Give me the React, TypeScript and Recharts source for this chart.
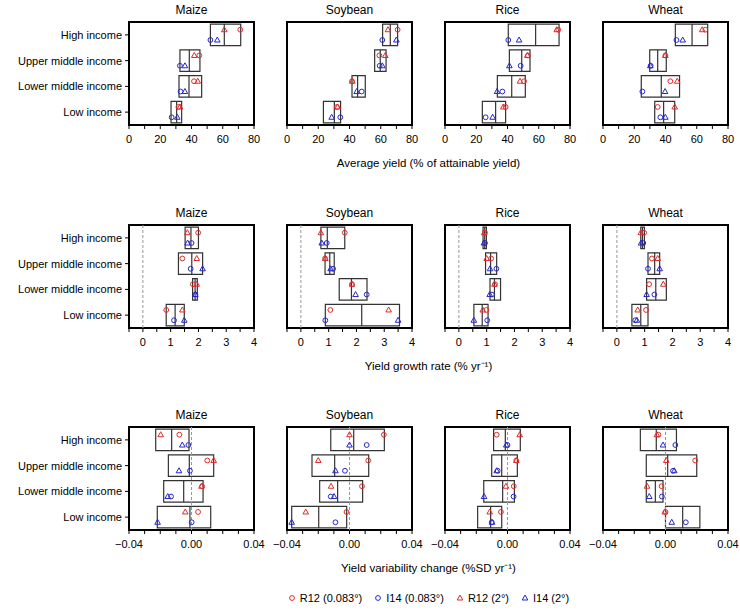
import React from 'react';
import {
  ComposedChart, XAxis, YAxis, Scatter, ReferenceArea, ReferenceLine,
} from 'recharts';

const crops = ['Maize', 'Soybean', 'Rice', 'Wheat'];
const groups = ['High income', 'Upper middle income', 'Lower middle income', 'Low income'];

// average yield (% of attainable) – per crop, per income group
const avgR12f = [[71.2, 45, 41.6, 31.6], [70.8, 59.1, 41.6, 32.0], [72.5, 53.1, 50.6, 38.8], [65.5, 39.9, 43.1, 35]];
const avgI14f = [[52.1, 32.6, 33.0, 27.3], [61, 59.3, 47.8, 34.1], [40.5, 48.4, 36.7, 26], [47, 30.5, 25.2, 36.7]];
const avgR12c = [[61, 41.8, 44, 32.6], [64.6, 62.9, 41.8, 32.4], [71.5, 52.7, 48, 37.3], [63.5, 39.9, 47.5, 45.9]];
const avgI14c = [[56.5, 35.8, 35.8, 30.9], [70, 61, 44.6, 28.6], [47.4, 41.2, 33.3, 30.5], [51, 30.3, 39.7, 39.9]];
const avgLo = [[52.1, 32.6, 32.0, 26.9], [61.2, 56.1, 41.6, 23.3], [40.5, 41.2, 33.5, 23.9], [46.3, 29.9, 24.5, 33.1]];
const avgMid = [[61, 38.6, 38.4, 30.5], [66.1, 59.7, 45.2, 30.3], [58, 49.1, 42.7, 32.4], [57, 35, 37.3, 38.8]];
const avgHi = [[71.5, 45.4, 46.5, 33.7], [70.8, 63.4, 50.1, 34.3], [73, 54.4, 51.4, 38.8], [67, 40.5, 49, 45.9]];

// yield growth rate (% per yr)
const grR12f = [[1.99, 1.42, 1.80, 0.84], [1.58, 0.87, 1.84, 1.06], [0.94, 1.16, 1.30, 0.99], [0.98, 1.26, 1.16, 1.05]];
const grI14f = [[1.75, 1.72, 1.89, 1.12], [0.93, 1.16, 2.37, 0.88], [0.94, 1.35, 1.19, 1.02], [0.95, 1.12, 1.35, 0.66]];
const grR12c = [[1.6, 1.94, 1.94, 1.42], [0.72, 0.88, 1.84, 3.16], [0.91, 1.0, 1.28, 0.86], [0.86, 1.47, 1.67, 0.75]];
const grI14c = [[1.61, 2.15, 1.89, 1.49], [0.75, 1.07, 1.97, 3.5], [0.90, 1.12, 1.11, 0.54], [0.87, 1.54, 1.07, 0.72]];
const grLo = [[1.52, 1.28, 1.79, 0.84], [0.72, 0.87, 1.38, 0.88], [0.87, 0.96, 1.12, 0.54], [0.86, 1.12, 1.07, 0.54]];
const grMid = [[1.73, 1.76, 1.88, 1.16], [0.95, 1.04, 1.82, 2.19], [0.93, 1.14, 1.28, 0.84], [0.92, 1.36, 1.40, 0.86]];
const grHi = [[2.0, 2.15, 1.96, 1.49], [1.58, 1.2, 2.38, 3.55], [0.99, 1.36, 1.5, 1.05], [0.99, 1.54, 1.78, 1.12]];

// yield variability change (%SD per yr)
const vrR12f = [[-0.0078, 0.0101, 0.0068, 0.0042], [0.022, 0.012, 0.008, -0.0019], [-0.0069, 0.0056, 0.004, -0.0042], [-0.0045, 0.019, -0.0025, 0.0]];
const vrI14f = [[-0.002, -0.001, -0.0131, 0.0001], [0.011, -0.0029, -0.012, -0.009], [0.0, -0.0063, 0.0039, -0.0101], [0.0063, 0.0048, -0.0023, 0.013]];
const vrR12c = [[-0.0197, 0.0142, 0.0064, -0.004], [0.0, -0.02, -0.0118, -0.028], [0.0078, 0.0057, -0.001, -0.0114], [-0.0055, 0.0005, -0.0118, -0.0005]];
const vrI14c = [[-0.0059, -0.008, -0.0152, -0.0217], [0.0, -0.009, -0.0099, -0.037], [-0.0008, -0.0069, -0.015, -0.0099], [-0.0016, 0.0056, -0.0104, 0.004]];
const vrLo = [[-0.0229, -0.0148, -0.0178, -0.0219], [-0.012, -0.024, -0.0191, -0.037], [-0.0089, -0.0101, -0.0152, -0.0191], [-0.0161, -0.0123, -0.0123, 0.0]];
const vrMid = [[-0.0127, -0.0014, -0.005, -0.001], [0.0027, -0.0095, -0.0076, -0.0197], [-0.0014, -0.0037, -0.0031, -0.0108], [-0.0059, 0.0014, -0.0065, 0.011]];
const vrHi = [[-0.0016, 0.0142, 0.0074, 0.0123], [0.0223, 0.0123, 0.0084, -0.0018], [0.0082, 0.0063, 0.0044, -0.0037], [0.007, 0.02, -0.0016, 0.022]];

const avgTicks = [0, 10, 20, 30, 40, 50, 60, 70, 80];
const avgLabels = [0, 20, 40, 60, 80];
const grTicks = [-0.5, 0, 0.5, 1, 1.5, 2, 2.5, 3, 3.5, 4];
const grLabels = [0, 1, 2, 3, 4];
const vrTicks = [-0.04, -0.03, -0.02, -0.01, 0, 0.01, 0.02, 0.03, 0.04];
const vrLabels = [-0.04, 0, 0.04];

const RED = '#e02a2a';
const BLUE = '#2626cc';
const FONT = '"Liberation Sans", Arial, Helvetica, sans-serif';

const PW = 125;
const PH = 103;
const X0 = [129, 287, 445, 603];
const ROW_TOP = [22, 225, 427];
const PAD = 18;

const fmtVar = (v: number) => (v === 0 ? '0.00' : v < 0 ? '\u2212' + Math.abs(v).toFixed(2) : v.toFixed(2));

const rows = [
  { domain: [0, 80], ticks: avgTicks, labels: avgLabels, fmt: (v: number) => String(v), zero: false,
    r12f: avgR12f, i14f: avgI14f, r12c: avgR12c, i14c: avgI14c, lo: avgLo, mid: avgMid, hi: avgHi,
    title: 'Average yield (% of attainable yield)' },
  { domain: [-0.5, 4], ticks: grTicks, labels: grLabels, fmt: (v: number) => String(v), zero: true,
    r12f: grR12f, i14f: grI14f, r12c: grR12c, i14c: grI14c, lo: grLo, mid: grMid, hi: grHi,
    title: 'Yield growth rate (% yr\u207B\u00B9)' },
  { domain: [-0.04, 0.04], ticks: vrTicks, labels: vrLabels, fmt: fmtVar, zero: true,
    r12f: vrR12f, i14f: vrI14f, r12c: vrR12c, i14c: vrI14c, lo: vrLo, mid: vrMid, hi: vrHi,
    title: 'Yield variability change (%SD yr\u207B\u00B9)' },
];

const circleShape = (color: string) => (p: any) => (
  <circle cx={p.cx} cy={p.cy} r={2.4} fill="none" stroke={color} strokeWidth={1} />
);
const triShape = (color: string) => (p: any) => (
  <polygon
    points={`${p.cx},${p.cy - 3} ${p.cx - 2.8},${p.cy + 2} ${p.cx + 2.8},${p.cy + 2}`}
    fill="none" stroke={color} strokeWidth={1}
  />
);

const GroupTick = (p: any) => (
  <text x={p.x - 1} y={p.y} dy={4} textAnchor="end" fontSize={11} fontFamily={FONT} fill="#000">
    {groups[p.payload.value - 1]}
  </text>
);

function Panel({ row, col }: { row: number; col: number }) {
  const r = rows[row];
  const leftW = col === 0 ? 128 : 8;
  const pts = (vals: number[], off: number) => vals.map((v, i) => ({ x: v, y: i + 1 + off }));
  const tickFmt = (v: number) => (r.labels.includes(v) ? r.fmt(v) : '');
  const tickStyle = { fontSize: 11, fill: '#000', fontFamily: FONT };
  const ml = col === 0 ? 0 : PAD;
  return (
    <div style={{ position: 'absolute', left: X0[col] - leftW - ml, top: ROW_TOP[row] - 5 }}>
      <ComposedChart width={ml + leftW + PW + 8 + PAD} height={5 + PH + 26}
        margin={{ top: 0, right: PAD, bottom: 0, left: ml }}>
        <XAxis xAxisId="b" dataKey="x" type="number" domain={r.domain} ticks={r.ticks} allowDataOverflow
          interval={0} tickFormatter={tickFmt} axisLine={false} tickLine={{ stroke: '#000' }} tickSize={4}
          tickMargin={6} height={26} tick={tickStyle} />
        <XAxis xAxisId="t" orientation="top" type="number" domain={r.domain} ticks={r.ticks} allowDataOverflow
          interval={0} axisLine={false} tickLine={{ stroke: '#000' }} tickSize={4} height={5} tick={false} />
        <YAxis yAxisId="l" dataKey="y" type="number" domain={[0.5, 4.5]} reversed ticks={[1, 2, 3, 4]}
          interval={0} axisLine={false} tickLine={{ stroke: '#000' }} tickSize={4} width={leftW}
          tick={col === 0 ? <GroupTick /> : false} />
        <YAxis yAxisId="r" orientation="right" type="number" domain={[0.5, 4.5]} reversed ticks={[1, 2, 3, 4]}
          interval={0} axisLine={false} tickLine={{ stroke: '#000' }} tickSize={4} width={8} tick={false} />
        {r.zero && (
          <ReferenceLine xAxisId="b" yAxisId="l" x={0} stroke="#999" strokeDasharray="3 2" strokeWidth={1} />
        )}
        {groups.map((g, i) => (
          <ReferenceArea key={'box' + g} xAxisId="b" yAxisId="l" x1={r.lo[col][i]} x2={r.hi[col][i]}
            y1={i + 1 - 0.42} y2={i + 1 + 0.42} fill="none" stroke="#333" strokeWidth={1.2} />
        ))}
        {groups.map((g, i) => (
          <ReferenceLine key={'med' + g} xAxisId="b" yAxisId="l" stroke="#333" strokeWidth={1.2}
            segment={[{ x: r.mid[col][i], y: i + 1 - 0.42 }, { x: r.mid[col][i], y: i + 1 + 0.42 }]} />
        ))}
        <Scatter xAxisId="b" yAxisId="l" data={pts(r.r12f[col], -0.2)} shape={circleShape(RED)} isAnimationActive={false} />
        <Scatter xAxisId="b" yAxisId="l" data={pts(r.r12c[col], -0.2)} shape={triShape(RED)} isAnimationActive={false} />
        <Scatter xAxisId="b" yAxisId="l" data={pts(r.i14f[col], 0.2)} shape={circleShape(BLUE)} isAnimationActive={false} />
        <Scatter xAxisId="b" yAxisId="l" data={pts(r.i14c[col], 0.2)} shape={triShape(BLUE)} isAnimationActive={false} />
        <ReferenceArea xAxisId="b" yAxisId="l" x1={r.domain[0]} x2={r.domain[1]} y1={0.5} y2={4.5}
          fill="none" stroke="#000" strokeWidth={2} ifOverflow="visible" />
      </ComposedChart>
    </div>
  );
}

const legendItems = [
  { label: 'R12 (0.083\u00B0)', color: RED, tri: false },
  { label: 'I14 (0.083\u00B0)', color: BLUE, tri: false },
  { label: 'R12 (2\u00B0)', color: RED, tri: true },
  { label: 'I14 (2\u00B0)', color: BLUE, tri: true },
];

export default function App() {
  return (
    <div style={{ position: 'absolute', left: 0, top: 0, width: 740, height: 611, background: '#fff', fontFamily: FONT, color: '#000' }}>
      {rows.map((r, ri) => (
        <React.Fragment key={ri}>
          {crops.map((c, ci) => (
            <div key={c} style={{ position: 'absolute', left: X0[ci], width: PW, top: ROW_TOP[ri] - 19, height: 14,
              lineHeight: '14px', fontSize: 12, textAlign: 'center' }}>{c}</div>
          ))}
          {crops.map((c, ci) => <Panel key={'p' + c} row={ri} col={ci} />)}
          <div style={{ position: 'absolute', left: X0[0], width: X0[3] + PW - X0[0], top: ROW_TOP[ri] + PH + 31,
            height: 14, lineHeight: '14px', fontSize: 11.5, textAlign: 'center' }}>{r.title}</div>
        </React.Fragment>
      ))}
      <div style={{ position: 'absolute', left: X0[0], width: X0[3] + PW - X0[0], top: 591, height: 14,
        display: 'flex', justifyContent: 'center', alignItems: 'center', fontSize: 11, gap: 12 }}>
        {legendItems.map(it => (
          <span key={it.label} style={{ display: 'flex', alignItems: 'center', gap: 4 }}>
            <svg width={8} height={8}>
              {it.tri
                ? <polygon points="4,1 1.2,6 6.8,6" fill="none" stroke={it.color} strokeWidth={1} />
                : <circle cx={4} cy={4} r={2.4} fill="none" stroke={it.color} strokeWidth={1} />}
            </svg>
            {it.label}
          </span>
        ))}
      </div>
    </div>
  );
}
